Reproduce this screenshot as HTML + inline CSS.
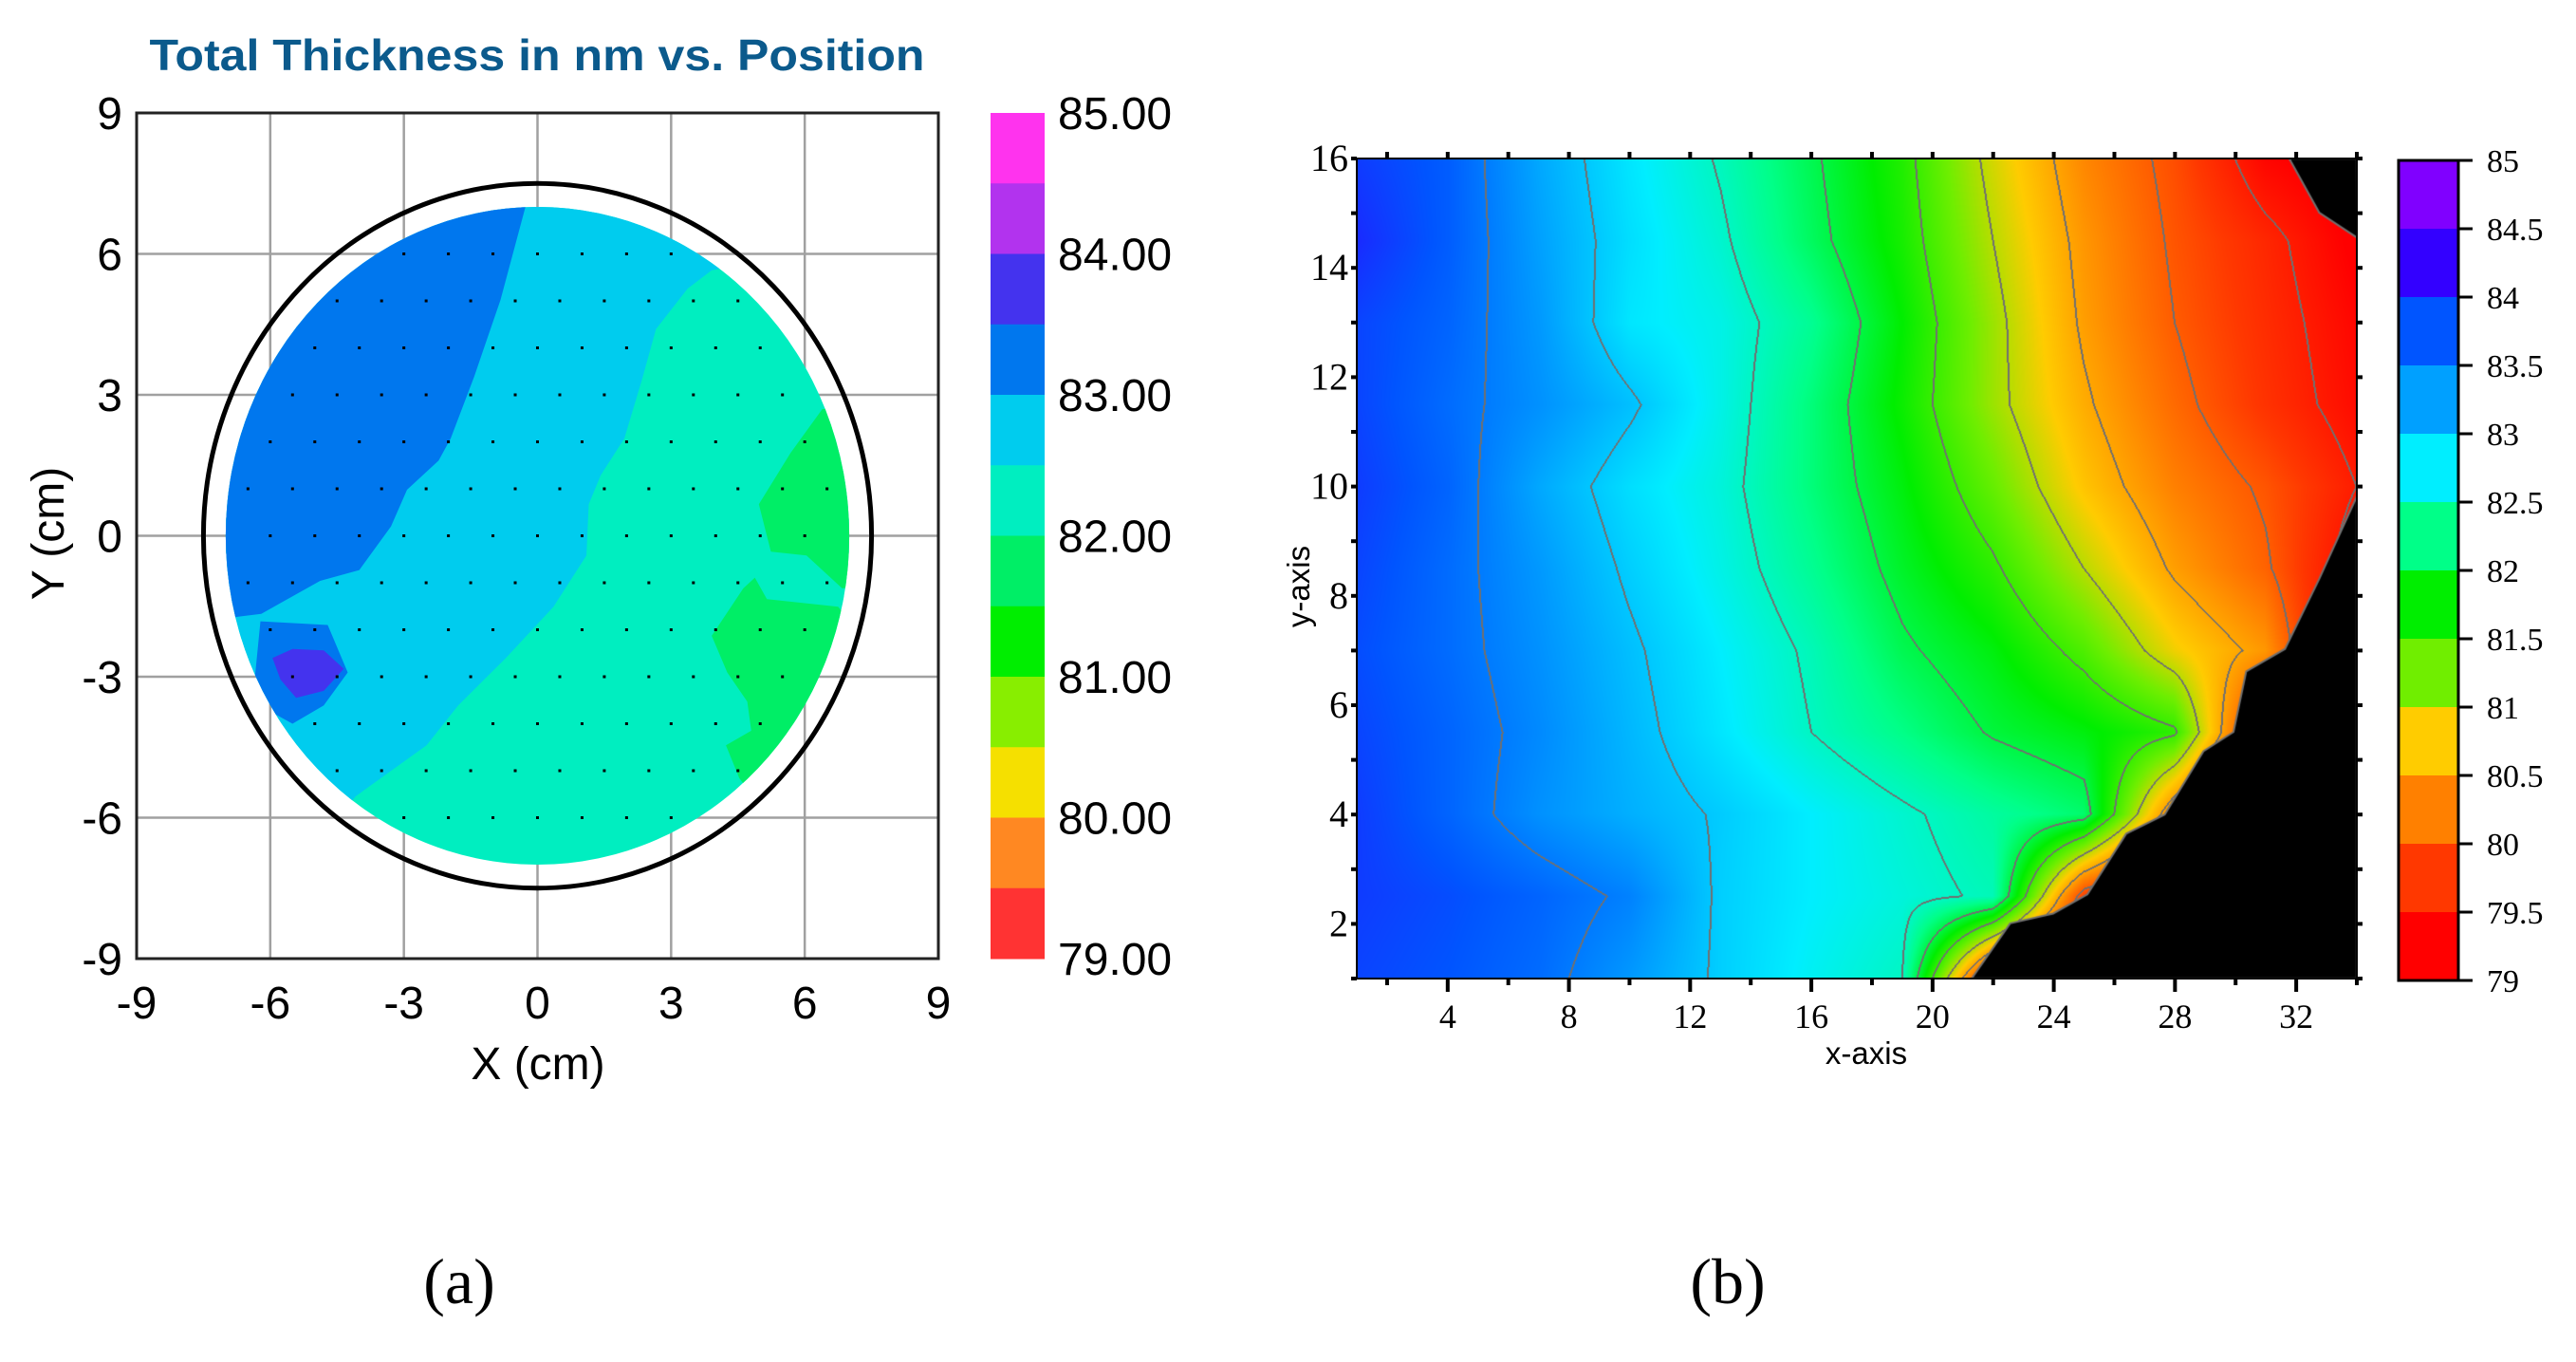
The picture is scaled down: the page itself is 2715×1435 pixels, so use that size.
<!DOCTYPE html>
<html><head><meta charset="utf-8">
<style>
html,body{margin:0;padding:0;background:#fff;}
#root{position:relative;width:2715px;height:1435px;overflow:hidden;background:#fff;}
svg{position:absolute;left:0;top:0;}
#cb{position:absolute;left:1430px;top:167px;}
</style></head>
<body>
<div id="root">
<svg id="sa" width="2715" height="1435"></svg>
<canvas id="cb" width="1054" height="864"></canvas>
<svg id="sb" width="2715" height="1435"></svg>
</div>
<script>
// ===== Panel (a) data =====
const aTicks = [-9,-6,-3,0,3,6,9];
const aLevels = [85,84.5,84,83.5,83,82.5,82,81.5,81,80.5,80,79.5,79];
const aLevelLabels = ["85.00","84.00","83.00","82.00","81.00","80.00","79.00"];
const aBandColors = ["#ff33ee","#b233ee","#4433ee","#0077ee","#00ccee","#00eec0","#00ee66","#00ee00","#88ee00","#f5e000","#ff8822","#ff3333"];
const aDiscRadius = 7;
const aWaferRadius = 7.5;
const aBaseColor = "#00eec0";
const aRegionBlueX = [-0.27,-0.83,-1.42,-1.95,-2.22,-2.93,-3.29,-4.0,-4.88,-6.2,-9,-9,-0.27];
const aRegionBlueY = [7.0,5.02,3.39,2.07,1.6,0.98,0.2,-0.73,-0.96,-1.66,-2,9,9];
const aRegionCyanX = [3.91,3.37,2.66,2.34,1.95,1.42,1.15,1.1,0.36,-0.71,-1.78,-2.49,-4.09,-6,-9,-9,5,6];
const aRegionCyanY = [5.65,5.26,4.4,3.31,2.07,1.29,0.67,-0.42,-1.51,-2.6,-3.61,-4.46,-5.55,-8,-9,9,9,6];
const aRingX = [-6.22,-4.71,-4.26,-4.8,-5.5,-6.4];
const aRingY = [-1.82,-1.9,-2.91,-3.61,-4.0,-3.53];
const aSpotX = [-5.95,-5.5,-4.8,-4.35,-4.8,-5.42,-5.77];
const aSpotY = [-2.6,-2.41,-2.44,-2.83,-3.3,-3.45,-3.06];
const aGreen1X = [6.39,5.68,4.97,5.24,6.04,6.84,8,8];
const aGreen1Y = [2.69,1.76,0.67,-0.34,-0.42,-1.12,-1,3];
const aGreen2X = [6.75,5.15,4.88,4.62,3.91,4.26,4.71,4.8,4.23,4.53,6,8];
const aGreen2Y = [-1.51,-1.35,-0.89,-1.12,-2.13,-2.91,-3.53,-4.15,-4.46,-5.16,-7,-3];

// ===== Panel (b) data =====
const bX = [1,4,7,10,13,16,19,22,25,28,31,34];
const bY = [1,2.5,4,5.5,7,8.5,10,11.5,13,14.5,16];
const bZ0 = [83.85,83.75,83.6,83.3,82.95,82.7,82.5,79.5,79,79,79,79];
const bZ1 = [83.9,83.8,83.65,83.45,82.95,82.75,82.6,82.45,79.8,79,79,79];
const bZ2 = [83.9,83.65,83.35,83.15,82.97,82.75,82.55,82.35,82.15,80.2,79,79];
const bZ3 = [83.85,83.65,83.4,83.1,82.8,82.5,82.25,81.97,81.8,81.55,79.5,79];
const bZ4 = [83.8,83.6,83.35,83.05,82.75,82.45,82.05,81.8,81.4,80.8,80.4,79];
const bZ5 = [83.85,83.6,83.3,82.95,82.65,82.3,81.9,81.55,81.0,80.45,80.05,79.3];
const bZ6 = [83.9,83.65,83.2,82.85,82.6,82.2,81.8,81.3,80.7,80.25,79.95,79.5];
const bZ7 = [83.85,83.6,83.35,83.05,82.65,82.2,81.7,81.1,80.55,80.1,79.7,79.35];
const bZ8 = [83.85,83.65,83.3,82.8,82.65,82.3,81.75,81.1,80.45,80.0,79.65,79.3];
const bZ9 = [84.0,83.7,83.25,82.85,82.55,82.1,81.65,81.0,80.4,79.95,79.6,79.2];
const bZ10 = [83.9,83.7,83.2,82.8,82.47,82.05,81.6,80.9,80.3,79.9,79.3,79.1];
const bMaskTopX = [31.77,32.76,34.04,34];
const bMaskTopY = [16,15.01,14.54,16];
const bMaskBotX = [34,32.76,31.63,30.35,29.93,28.94,27.66,26.39,25.11,23.98,22.56,21.29,34];
const bMaskBotY = [9.82,8.31,7.03,6.62,5.51,5.16,4.0,3.65,2.54,2.19,2.01,1.0,1];
const bXTicks = [4,8,12,16,20,24,28,32];
const bYTicks = [2,4,6,8,10,12,14,16];
const bLevels = [85,84.5,84,83.5,83,82.5,82,81.5,81,80.5,80,79.5,79];
const bLevelLabels = ["85","84.5","84","83.5","83","82.5","82","81.5","81","80.5","80","79.5","79"];
const bBandColors = ["#8000ff","#3300ff","#0055ff","#00a0ff","#00eeff","#00ff88","#00ee00","#70ee00","#ffcc00","#ff8000","#ff3800","#ff0000"];

const NS = "http://www.w3.org/2000/svg";
function mk(parent, tag, attrs, text){
  const e = document.createElementNS(NS, tag);
  for (const k in attrs) e.setAttribute(k, attrs[k]);
  if (text !== undefined) e.textContent = text;
  parent.appendChild(e);
  return e;
}

// ===== Panel (a) drawing =====
const sa = document.getElementById('sa');
const AL=144, AR=989, AT=119, AB=1010;
function xa(v){ return AL + (v+9)/18*(AR-AL); }
function ya(v){ return AB - (v+9)/18*(AB-AT); }
function ptsA(xs, ys){ return xs.map((x,i)=>xa(x).toFixed(1)+','+ya(ys[i]).toFixed(1)).join(' '); }

let t = mk(sa,'text',{x:566,y:74,'text-anchor':'middle','font-family':'Liberation Sans, Arial, sans-serif','font-weight':'bold','font-size':46,fill:'#0b5a8c',textLength:817,lengthAdjust:'spacingAndGlyphs'},'Total Thickness in nm vs. Position');



const gridA = mk(sa,'g',{});


aTicks.forEach(v=>{
  mk(gridA,'line',{x1:xa(v),x2:xa(v),y1:AT,y2:AB,stroke:'#a0a0a0','stroke-width':2.5});
  mk(gridA,'line',{x1:AL,x2:AR,y1:ya(v),y2:ya(v),stroke:'#a0a0a0','stroke-width':2.5});
});

const defs = mk(sa,'defs',{});
const cp = mk(defs,'clipPath',{id:'discClip'});
mk(cp,'ellipse',{cx:xa(0),cy:ya(0),rx:xa(aDiscRadius)-xa(0),ry:ya(0)-ya(aDiscRadius)});

const disc = mk(sa,'g',{'clip-path':'url(#discClip)'});


mk(disc,'rect',{x:AL,y:AT,width:AR-AL,height:AB-AT,fill:aBaseColor});
let r;
r = mk(disc,'polygon',{points:ptsA(aRegionCyanX,aRegionCyanY),fill:aBandColors[4]});
 
r = mk(disc,'polygon',{points:ptsA(aRegionBlueX,aRegionBlueY),fill:aBandColors[3]});
 
r = mk(disc,'polygon',{points:ptsA(aRingX,aRingY),fill:aBandColors[3]});
 
r = mk(disc,'polygon',{points:ptsA(aSpotX,aSpotY),fill:aBandColors[2]});
 
r = mk(disc,'polygon',{points:ptsA(aGreen1X,aGreen1Y),fill:aBandColors[6]});
 
r = mk(disc,'polygon',{points:ptsA(aGreen2X,aGreen2Y),fill:aBandColors[6]});
 
// measurement dots
const dots = mk(disc,'g',{fill:'#000'});


for (let j=-7;j<=7;j++){
  const off = (j%2===0)?0:0.5;
  for (let i=-8;i<=8;i++){
    const x=i+off, y=j;
    if (Math.hypot(x,y) < 6.95) mk(dots,'rect',{x:xa(x)-1.5,y:ya(y)-1.5,width:3,height:3});
  }
}
r = mk(sa,'ellipse',{cx:xa(0),cy:ya(0),rx:xa(aWaferRadius)-xa(0),ry:ya(0)-ya(aWaferRadius),fill:'none',stroke:'#000','stroke-width':5});
 
r = mk(sa,'rect',{x:AL,y:AT,width:AR-AL,height:AB-AT,fill:'none',stroke:'#222','stroke-width':3});
 

const fa = 'Liberation Sans, Arial, sans-serif';
aTicks.forEach(v=>{
  let e = mk(sa,'text',{x:xa(v),y:1073,'text-anchor':'middle','font-family':fa,'font-size':48,fill:'#000'},String(v));
   
  e = mk(sa,'text',{x:129,y:ya(v)+17,'text-anchor':'end','font-family':fa,'font-size':48,fill:'#000'},String(v));
   
});
t = mk(sa,'text',{x:567,y:1137,'text-anchor':'middle','font-family':fa,'font-size':48,fill:'#000'},'X (cm)');
 
t = mk(sa,'text',{x:0,y:0,'text-anchor':'middle','font-family':fa,'font-size':48,fill:'#000',transform:'translate(67,562) rotate(-90)'},'Y (cm)');
 

// colorbar a
const CAX=1044, CAW=57;
function ca(v){ return AT + (85-v)/6*(AB-AT); }
const cba = mk(sa,'g',{});


aBandColors.forEach((c,i)=>{
  mk(cba,'rect',{x:CAX,y:ca(aLevels[i]),width:CAW,height:ca(aLevels[i+1])-ca(aLevels[i])+0.5,fill:c});
});
aLevelLabels.forEach(s=>{
  const e = mk(sa,'text',{x:1115,y:ca(parseFloat(s))+17,'font-family':fa,'font-size':48,fill:'#000'},s);
   
});

// caption a
t = mk(sa,'text',{x:484,y:1373,'text-anchor':'middle','font-family':'Liberation Serif, Times, serif','font-size':68,fill:'#000'},'(a)');
 

// ===== Panel (b) drawing =====
const BL=1430, BR=2484, BT=167, BB=1031;
function xb(v){ return BL + (v-1)/33*(BR-BL); }
function yb(v){ return BB - (v-1)/15*(BB-BT); }
const bZ = [bZ0,bZ1,bZ2,bZ3,bZ4,bZ5,bZ6,bZ7,bZ8,bZ9,bZ10];
function hex(c){ return [parseInt(c.substr(1,2),16),parseInt(c.substr(3,2),16),parseInt(c.substr(5,2),16)]; }
const stops = bBandColors.map((c,i)=>({v:(bLevels[i]+bLevels[i+1])/2, c:hex(c)})).reverse();
function colorOf(v){
  if (v<=stops[0].v) return stops[0].c;
  for (let i=0;i<stops.length-1;i++){
    if (v<=stops[i+1].v){
      const f=(v-stops[i].v)/(stops[i+1].v-stops[i].v);
      const a=stops[i].c,b=stops[i+1].c;
      return [a[0]+(b[0]-a[0])*f,a[1]+(b[1]-a[1])*f,a[2]+(b[2]-a[2])*f];
    }
  }
  return stops[stops.length-1].c;
}
function seg(arr,v){
  for (let i=0;i<arr.length-2;i++) if (v<arr[i+1]) return i;
  return arr.length-2;
}
function zAt(x,y){
  const i=seg(bX,x), j=seg(bY,y);
  const fx=(x-bX[i])/(bX[i+1]-bX[i]), fy=(y-bY[j])/(bY[j+1]-bY[j]);
  const a=bZ[j][i], b=bZ[j][i+1], c=bZ[j+1][i], d=bZ[j+1][i+1];
  return a*(1-fx)*(1-fy)+b*fx*(1-fy)+c*(1-fx)*fy+d*fx*fy;
}
const cv = document.getElementById('cb');
const ctx = cv.getContext('2d');
const W=cv.width, H=cv.height;
const img = ctx.createImageData(W,H);
const vals = new Float32Array(W*H);
for (let py=0;py<H;py++){
  const y = 16 - py/(H-1)*15;
  for (let px=0;px<W;px++){
    const x = 1 + px/(W-1)*33;
    vals[py*W+px]=zAt(x,y);
  }
}
for (let py=0;py<H;py++){
  for (let px=0;px<W;px++){
    const k=py*W+px, v=vals[k];
    let col = colorOf(v);
    const b0=Math.floor((v-79)/0.5);
    const br = px+1<W ? Math.floor((vals[k+1]-79)/0.5) : b0;
    const bd = py+1<H ? Math.floor((vals[k+W]-79)/0.5) : b0;
    const bl = px>0 ? Math.floor((vals[k-1]-79)/0.5) : b0;
    const bu = py>0 ? Math.floor((vals[k-W]-79)/0.5) : b0;
    if (br!==b0||bd!==b0||bl!==b0||bu!==b0) col=[112,112,112];
    img.data[k*4]=col[0]; img.data[k*4+1]=col[1]; img.data[k*4+2]=col[2]; img.data[k*4+3]=255;
  }
}
ctx.putImageData(img,0,0);
function maskPath(xs,ys){
  ctx.beginPath();
  xs.forEach((x,i)=>{ const X=xb(x)-BL, Y=yb(ys[i])-BT; if(i===0) ctx.moveTo(X,Y); else ctx.lineTo(X,Y); });
  ctx.closePath();
  ctx.fillStyle='#000'; ctx.fill();
  ctx.strokeStyle='#707070'; ctx.lineWidth=2; ctx.stroke();
}
maskPath(bMaskTopX,bMaskTopY);
maskPath(bMaskBotX,bMaskBotY);

const sb = document.getElementById('sb');
const fb = 'Liberation Serif, Times, serif';
r = mk(sb,'rect',{x:BL,y:BT,width:BR-BL,height:BB-BT,fill:'none',stroke:'#000','stroke-width':2});
 
const tk = mk(sb,'g',{stroke:'#000','stroke-width':4});


for (let v=2; v<=34; v+=2){
  const major = v%4===0;
  mk(tk,'line',{x1:xb(v),x2:xb(v),y1:BB,y2:BB+(major?14:7)});
  mk(tk,'line',{x1:xb(v),x2:xb(v),y1:BT,y2:BT-7});
}
for (let v=1; v<=16; v+=1){
  mk(tk,'line',{x1:BL,x2:BL-6,y1:yb(v),y2:yb(v)});
  mk(tk,'line',{x1:BR,x2:BR+6,y1:yb(v),y2:yb(v)});
}
bXTicks.forEach(v=>{
  const e = mk(sb,'text',{x:xb(v),y:1083,'text-anchor':'middle','font-family':fb,'font-size':36,fill:'#000'},String(v));
   
});
bYTicks.forEach(v=>{
  const e = mk(sb,'text',{x:1421,y:yb(v)+13,'text-anchor':'end','font-family':fb,'font-size':40,fill:'#000'},String(v));
   
});
t = mk(sb,'text',{x:1967,y:1121,'text-anchor':'middle','font-family':fa,'font-size':33,fill:'#000'},'x-axis');
 
t = mk(sb,'text',{x:0,y:0,'text-anchor':'middle','font-family':fa,'font-size':33,fill:'#000',transform:'translate(1380,618) rotate(-90)'},'y-axis');
 

// colorbar b
const CBX=2528, CBW=63, CBT=169, CBB=1033;
function cbY(v){ return CBT + (85-v)/6*(CBB-CBT); }
const cbb = mk(sb,'g',{});


bBandColors.forEach((c,i)=>{
  mk(cbb,'rect',{x:CBX,y:cbY(bLevels[i]),width:CBW,height:cbY(bLevels[i+1])-cbY(bLevels[i])+0.5,fill:c});
});
mk(cbb,'rect',{x:CBX,y:CBT,width:CBW,height:CBB-CBT,fill:'none',stroke:'#000','stroke-width':3});
bLevelLabels.forEach((s,i)=>{
  mk(cbb,'line',{x1:CBX+CBW,x2:2606,y1:cbY(bLevels[i]),y2:cbY(bLevels[i]),stroke:'#000','stroke-width':3});
  const e = mk(sb,'text',{x:2621,y:cbY(bLevels[i])+12,'font-family':fb,'font-size':34,fill:'#000'},s);
   
});

t = mk(sb,'text',{x:1821,y:1373,'text-anchor':'middle','font-family':fb,'font-size':68,fill:'#000'},'(b)');
 
</script>
</body></html>
